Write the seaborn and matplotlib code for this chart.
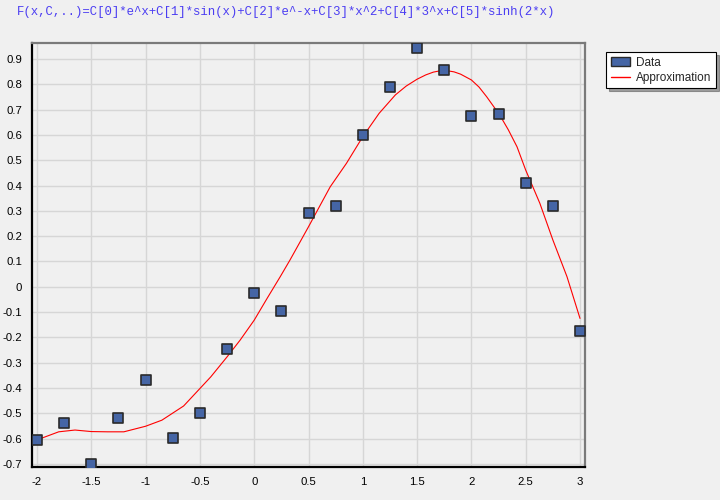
import numpy as np
import pandas as pd
import seaborn as sns
import matplotlib
matplotlib.use("Agg")
import matplotlib.pyplot as plt
from matplotlib.patches import Patch
from matplotlib.lines import Line2D
from matplotlib.ticker import MultipleLocator, FormatStrFormatter

# data points
data_x = [-2, -1.75, -1.5, -1.25, -1, -0.75, -0.5, -0.25, 0, 0.25, 0.5,
          0.75, 1, 1.25, 1.5, 1.75, 2, 2.25, 2.5, 2.75, 3]
data_y = [-0.605, -0.537, -0.70, -0.52, -0.367, -0.598, -0.497, -0.246, -0.024, -0.097, 0.292,
          0.32, 0.60, 0.79, 0.945, 0.855, 0.675, 0.683, 0.41, 0.32, -0.173]

# approximation curve, also
fit_x = [-2, -1.8, -1.65, -1.5, -1.35, -1.2, -1.0, -0.85, -0.65, -0.5, -0.4, -0.25,
         -0.13, 0, 0.12, 0.24, 0.33, 0.5, 0.7, 0.85, 1.0, 1.15, 1.3, 1.4, 1.5, 1.58, 1.65,
         1.71, 1.77, 1.84, 1.9, 2.0, 2.07, 2.14, 2.26, 2.34, 2.42, 2.5, 2.63, 2.75, 2.88, 3.0]
fit_y = [-0.605, -0.573, -0.566, -0.572, -0.573, -0.573, -0.551, -0.527, -0.471, -0.402, -0.356, -0.277,
         -0.211, -0.132, -0.045, 0.04, 0.106, 0.237, 0.395, 0.488, 0.593, 0.685, 0.758, 0.793, 0.82, 0.837, 0.848,
         0.853, 0.854, 0.849, 0.84, 0.817, 0.789, 0.751, 0.679, 0.62, 0.553, 0.461, 0.330, 0.185, 0.040, -0.125]

title = "F(x,C,..)=C[0]*e^x+C[1]*sin(x)+C[2]*e^-x+C[3]*x^2+C[4]*3^x+C[5]*sinh(2*x)"

pts = pd.DataFrame({"x": data_x, "y": data_y})
fit = pd.DataFrame({"x": fit_x, "y": fit_y})

sns.set_style("white")
plt.rcParams['font.family'] = ['Liberation Sans', 'DejaVu Sans']
plt.rcParams['axes.unicode_minus'] = False

fig = plt.figure(figsize=(7.2, 5.0), dpi=100, facecolor="#f0f0f0")
ax = fig.add_axes([32/720, 33/500, 553/720, 424/500])
ax.set_facecolor("#f0f0f0")

sns.lineplot(data=fit, x="x", y="y", ax=ax, color="#ff0000", linewidth=0.8,
             legend=False, zorder=3)
sns.scatterplot(data=pts, x="x", y="y", ax=ax, marker="s", s=62, color="#4565a5",
                edgecolor="#2a2a2a", linewidth=1.2, legend=False, zorder=4)

ax.set_xlim(-2.046, 3.046)
ax.set_ylim(-0.712, 0.963)
ax.xaxis.set_major_locator(MultipleLocator(0.5))
ax.xaxis.set_minor_locator(MultipleLocator(0.125))
ax.yaxis.set_major_locator(MultipleLocator(0.1))
ax.yaxis.set_minor_locator(MultipleLocator(0.02))
ax.xaxis.set_major_formatter(FormatStrFormatter("%g"))
ax.yaxis.set_major_formatter(FormatStrFormatter("%g"))
ax.grid(True, which="major", color="#d6d6d6", linewidth=1.0)
ax.set_axisbelow(True)
ax.tick_params(which="major", direction="out", length=4, width=1, color="#404040",
               labelsize=8.2, labelcolor="black", pad=3)
ax.tick_params(which="minor", direction="out", length=2.5, width=1, color="#909090")
ax.set_xlabel("")
ax.set_ylabel("")

for side in ["left", "bottom"]:
    ax.spines[side].set_color("black")
    ax.spines[side].set_linewidth(1.6)
for side in ["top", "right"]:
    ax.spines[side].set_color("#7a7a7a")
    ax.spines[side].set_linewidth(1.6)

# legend outside, top right
handles = [Patch(facecolor="#4565a5", edgecolor="#2a2a2a", linewidth=1.0),
           Line2D([], [], color="#ff0000", linewidth=1.0)]
leg = ax.legend(handles, ["Data", "Approximation"],
                loc="upper left", bbox_to_anchor=(606/720, 1 - 52/500),
                bbox_transform=fig.transFigure, frameon=True, fancybox=False,
                shadow=True, fontsize=8.5, borderpad=0.4, labelspacing=0.25,
                handlelength=1.6, handletextpad=0.55, borderaxespad=0)
leg.get_frame().set_edgecolor("black")
leg.get_frame().set_facecolor("white")
leg.get_frame().set_linewidth(0.8)

fig.text(17/720, 1 - 12/500, title, family=["Liberation Mono", "DejaVu Sans Mono"],
         fontsize=8.9, color="#4b3df2", va="center", ha="left")

fig.savefig("out.png", dpi=100, facecolor=fig.get_facecolor())
